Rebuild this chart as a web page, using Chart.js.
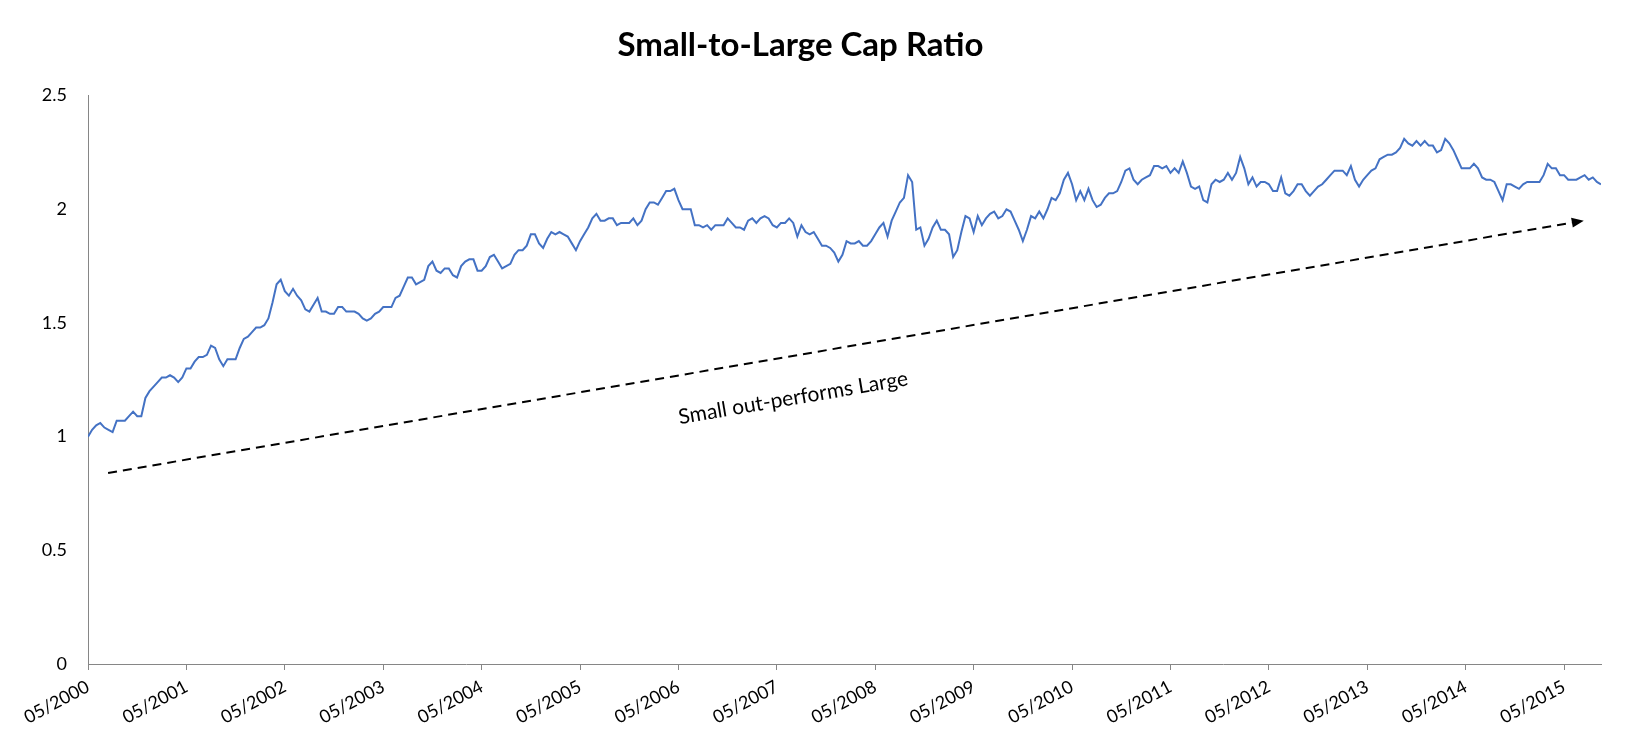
<!DOCTYPE html>
<html>
<head>
<meta charset="utf-8">
<script src="https://cdn.jsdelivr.net/npm/chart.js@4.4.1/dist/chart.umd.min.js"></script>
<style>
  html, body { margin: 0; padding: 0; background: #fff; }
  #wrap { width: 1650px; height: 750px; }
</style>
</head>
<body>
<div id="wrap"><canvas id="ratioChart" width="1650" height="750"></canvas></div>
<script>
// tick labels on the x axis, one per year (every 24 half-month steps)
const tickLabels = ['05/2000', '05/2001', '05/2002', '05/2003', '05/2004', '05/2005', '05/2006', '05/2007',
  '05/2008', '05/2009', '05/2010', '05/2011', '05/2012', '05/2013', '05/2014', '05/2015'];
const yTickLabels = ['0', '0.5', '1', '1.5', '2', '2.5'];
const stepsPerYear = 24;

// small-to-large cap ratio, every half month from 05/2000
const ratio = [
  1.00, 1.03, 1.05, 1.06, 1.04, 1.03, 1.02, 1.07, 1.07, 1.07, 1.09, 1.11, 1.09, 1.09, 1.17, 1.20, 1.22, 1.24, 1.26, 1.26, 1.27, 1.26, 1.24, 1.26,
  1.30, 1.30, 1.33, 1.35, 1.35, 1.36, 1.40, 1.39, 1.34, 1.31, 1.34, 1.34, 1.34, 1.39, 1.43, 1.44, 1.46, 1.48, 1.48, 1.49, 1.52, 1.59, 1.67, 1.69,
  1.64, 1.62, 1.65, 1.62, 1.60, 1.56, 1.55, 1.58, 1.61, 1.55, 1.55, 1.54, 1.54, 1.57, 1.57, 1.55, 1.55, 1.55, 1.54, 1.52, 1.51, 1.52, 1.54, 1.55,
  1.57, 1.57, 1.57, 1.61, 1.62, 1.66, 1.70, 1.70, 1.67, 1.68, 1.69, 1.75, 1.77, 1.73, 1.72, 1.74, 1.74, 1.71, 1.70, 1.75, 1.77, 1.78, 1.78, 1.73,
  1.73, 1.75, 1.79, 1.80, 1.77, 1.74, 1.75, 1.76, 1.80, 1.82, 1.82, 1.84, 1.89, 1.89, 1.85, 1.83, 1.87, 1.90, 1.89, 1.90, 1.89, 1.88, 1.85, 1.82,
  1.86, 1.89, 1.92, 1.96, 1.98, 1.95, 1.95, 1.96, 1.96, 1.93, 1.94, 1.94, 1.94, 1.96, 1.93, 1.95, 2.00, 2.03, 2.03, 2.02, 2.05, 2.08, 2.08, 2.09,
  2.04, 2.00, 2.00, 2.00, 1.93, 1.93, 1.92, 1.93, 1.91, 1.93, 1.93, 1.93, 1.96, 1.94, 1.92, 1.92, 1.91, 1.95, 1.96, 1.94, 1.96, 1.97, 1.96, 1.93,
  1.92, 1.94, 1.94, 1.96, 1.94, 1.88, 1.93, 1.90, 1.89, 1.90, 1.87, 1.84, 1.84, 1.83, 1.81, 1.77, 1.80, 1.86, 1.85, 1.85, 1.86, 1.84, 1.84, 1.86,
  1.89, 1.92, 1.94, 1.88, 1.95, 1.99, 2.03, 2.05, 2.15, 2.12, 1.91, 1.92, 1.84, 1.87, 1.92, 1.95, 1.91, 1.91, 1.89, 1.79, 1.82, 1.90, 1.97, 1.96,
  1.90, 1.97, 1.93, 1.96, 1.98, 1.99, 1.96, 1.97, 2.00, 1.99, 1.95, 1.91, 1.86, 1.91, 1.97, 1.96, 1.99, 1.96, 2.00, 2.05, 2.04, 2.07, 2.13, 2.16,
  2.11, 2.04, 2.08, 2.04, 2.09, 2.04, 2.01, 2.02, 2.05, 2.07, 2.07, 2.08, 2.12, 2.17, 2.18, 2.13, 2.11, 2.13, 2.14, 2.15, 2.19, 2.19, 2.18, 2.19,
  2.16, 2.18, 2.16, 2.21, 2.16, 2.10, 2.09, 2.10, 2.04, 2.03, 2.11, 2.13, 2.12, 2.13, 2.16, 2.13, 2.16, 2.23, 2.18, 2.11, 2.14, 2.10, 2.12, 2.12,
  2.11, 2.08, 2.08, 2.14, 2.07, 2.06, 2.08, 2.11, 2.11, 2.08, 2.06, 2.08, 2.10, 2.11, 2.13, 2.15, 2.17, 2.17, 2.17, 2.15, 2.19, 2.13, 2.10, 2.13,
  2.15, 2.17, 2.18, 2.22, 2.23, 2.24, 2.24, 2.25, 2.27, 2.31, 2.29, 2.28, 2.30, 2.28, 2.30, 2.28, 2.28, 2.25, 2.26, 2.31, 2.29, 2.26, 2.22, 2.18,
  2.18, 2.18, 2.20, 2.18, 2.14, 2.13, 2.13, 2.12, 2.08, 2.04, 2.11, 2.11, 2.10, 2.09, 2.11, 2.12, 2.12, 2.12, 2.12, 2.15, 2.20, 2.18, 2.18, 2.15,
  2.15, 2.13, 2.13, 2.13, 2.14, 2.15, 2.13, 2.14, 2.12, 2.11
];

// trend arrow and its caption, in chart units (half-month step, ratio)
const arrowStart = [4.9, 0.84];
const arrowEnd = [364.8, 1.95];
const captionAt = [172, 1.17];
const captionText = 'Small out-performs Large';

const FONT = 'Lato, "Open Sans", sans-serif';
const AXIS_GREY = '#868686';

// Pfeil + Beschriftung
const trendArrow = {
  id: 'trendArrow',
  afterDatasetsDraw(chart) {
    const { ctx, scales: { x, y } } = chart;
    const x0 = x.getPixelForValue(arrowStart[0]), y0 = y.getPixelForValue(arrowStart[1]);
    const x1 = x.getPixelForValue(arrowEnd[0]), y1 = y.getPixelForValue(arrowEnd[1]);
    const ang = Math.atan2(y1 - y0, x1 - x0);
    const headLen = 12, headW = 5;

    ctx.save();
    ctx.strokeStyle = '#000';
    ctx.fillStyle = '#000';
    ctx.lineWidth = 2;
    ctx.setLineDash([9, 6]);
    ctx.beginPath();
    ctx.moveTo(x0, y0);
    ctx.lineTo(x1 - headLen * Math.cos(ang), y1 - headLen * Math.sin(ang));
    ctx.stroke();
    ctx.setLineDash([]);

    ctx.translate(x1, y1);
    ctx.rotate(ang);
    ctx.beginPath();
    ctx.moveTo(0, 0);
    ctx.lineTo(-headLen, -headW);
    ctx.lineTo(-headLen, headW);
    ctx.closePath();
    ctx.fill();
    ctx.restore();

    ctx.save();
    ctx.translate(x.getPixelForValue(captionAt[0]), y.getPixelForValue(captionAt[1]));
    ctx.rotate(ang);
    ctx.font = '21px ' + FONT;
    ctx.fillStyle = '#000';
    ctx.textAlign = 'center';
    ctx.textBaseline = 'middle';
    ctx.fillText(captionText, 0, 0);
    ctx.restore();
  }
};

document.addEventListener('DOMContentLoaded', () => {
  const points = ratio.map((v, i) => ({ x: i, y: v }));

  new Chart(document.getElementById('ratioChart'), {
    type: 'line',
    data: {
      datasets: [{
        label: 'Small-to-Large Cap Ratio',
        data: points,
        borderColor: '#4472C4',
        borderWidth: 2,
        pointRadius: 0,
        tension: 0,
        fill: false
      }]
    },
    options: {
      responsive: false,
      animation: false,
      devicePixelRatio: 1,
      layout: { padding: { left: 0, right: 49, top: 0, bottom: 0 } },
      plugins: {
        legend: { display: false },
        tooltip: { enabled: false },
        title: {
          display: true,
          text: 'Small-to-Large Cap Ratio',
          color: '#000',
          font: { family: FONT, size: 33, weight: 'bold' },
          padding: { top: 26, bottom: 30 }
        }
      },
      scales: {
        x: {
          type: 'linear',
          min: 0,
          max: 369,
          afterFit: (s) => { s.height = 86; },
          border: { display: true, color: AXIS_GREY, width: 1 },
          grid: { display: true, drawOnChartArea: false, drawTicks: true, tickLength: 6, color: AXIS_GREY },
          ticks: {
            stepSize: stepsPerYear,
            includeBounds: false,
            autoSkip: false,
            minRotation: 28,
            maxRotation: 28,
            padding: 6,
            color: '#000',
            font: { family: FONT, size: 18 },
            callback: (v) => tickLabels[v / stepsPerYear]
          }
        },
        y: {
          min: 0,
          max: 2.5,
          afterFit: (s) => { s.width = 88; },
          border: { display: true, color: AXIS_GREY, width: 1 },
          grid: { display: false, drawTicks: false },
          ticks: {
            stepSize: 0.5,
            padding: 21,
            color: '#000',
            font: { family: FONT, size: 18 },
            callback: (v, i) => yTickLabels[i]
          }
        }
      }
    },
    plugins: [trendArrow]
  });
});
</script>
</body>
</html>
